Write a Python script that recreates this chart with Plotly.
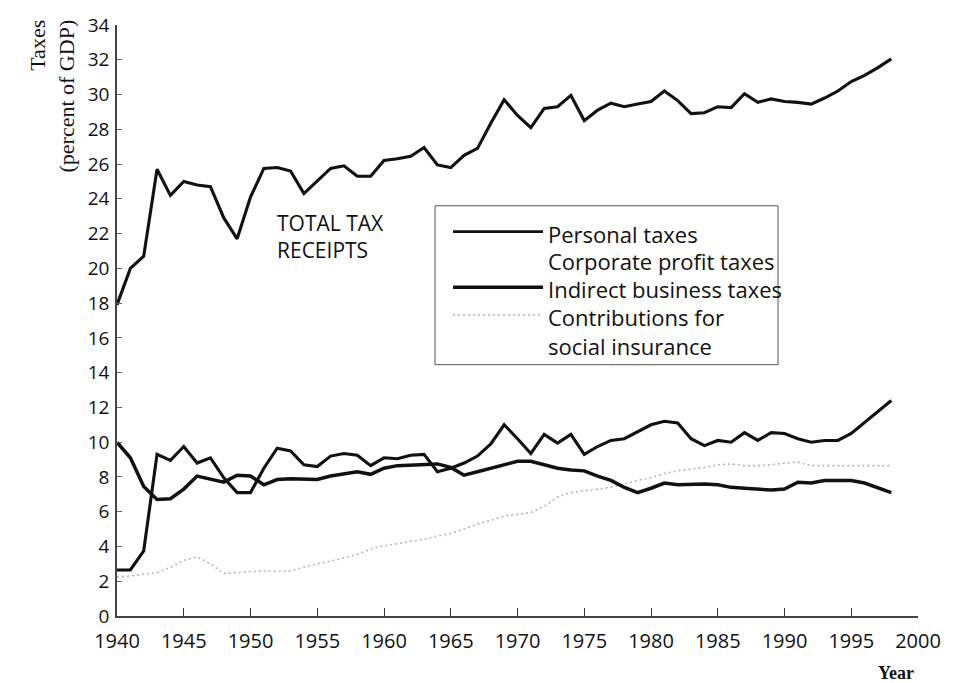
import plotly.graph_objects as go

# Federal, state and local tax receipts as a share of GDP, 1940-1998
years = list(range(1940, 1999))

total_tax = [
    17.9, 20.0, 20.7, 25.7, 24.2, 25.0, 24.8, 24.7, 22.9, 21.7,
    24.1, 25.75, 25.8, 25.6, 24.3, 25.0, 25.75, 25.9, 25.3, 25.3,
    26.2, 26.3, 26.45, 26.95, 25.95, 25.8, 26.5, 26.9, 28.35, 29.7,
    28.8, 28.1, 29.2, 29.3, 29.95, 28.5, 29.1, 29.5, 29.3, 29.45,
    29.6, 30.2, 29.65, 28.9, 28.95, 29.3, 29.25, 30.05, 29.55, 29.75,
    29.6, 29.55, 29.45, 29.8, 30.2, 30.75, 31.1, 31.55, 32.05,
]

personal_taxes = [
    2.65, 2.65, 3.75, 9.3, 8.95, 9.75, 8.8, 9.1, 7.95, 7.1,
    7.1, 8.5, 9.65, 9.5, 8.7, 8.6, 9.2, 9.35, 9.25, 8.65,
    9.1, 9.05, 9.25, 9.3, 8.3, 8.5, 8.8, 9.2, 9.9, 11.0,
    10.2, 9.35, 10.45, 9.95, 10.45, 9.3, 9.75, 10.1, 10.2, 10.6,
    11.0, 11.2, 11.1, 10.2, 9.8, 10.1, 10.0, 10.55, 10.1, 10.55,
    10.5, 10.2, 10.0, 10.1, 10.1, 10.5, 11.15, 11.8, 12.4,
]

indirect_business_taxes = [
    10.0, 9.1, 7.45, 6.7, 6.75, 7.3, 8.05, 7.85, 7.7, 8.1,
    8.05, 7.55, 7.85, 7.9, 7.9, 7.85, 8.05, 8.2, 8.3, 8.15,
    8.5, 8.65, 8.7, 8.7, 8.75, 8.55, 8.1, 8.3, 8.5, 8.65,
    8.9, 8.9, 8.7, 8.5, 8.4, 8.35, 8.05, 7.8, 7.4, 7.1,
    7.35, 7.65, 7.55, 7.6, 7.6, 7.55, 7.4, 7.35, 7.3, 7.25,
    7.3, 7.7, 7.65, 7.8, 7.8, 7.8, 7.65, 7.35, 7.1,
]

social_insurance = [
    2.25, 2.3, 2.4, 2.5, 2.8, 3.2, 3.4, 3.0, 2.45, 2.5,
    2.55, 2.6, 2.55, 2.6, 2.8, 3.0, 3.15, 3.35, 3.55, 3.85,
    4.05, 4.15, 4.3, 4.4, 4.6, 4.75, 5.0, 5.3, 5.5, 5.75,
    5.85, 5.95, 6.3, 6.85, 7.1, 7.2, 7.3, 7.4, 7.6, 7.8,
    7.95, 8.2, 8.35, 8.45, 8.55, 8.7, 8.75, 8.65, 8.65, 8.7,
    8.8, 8.85, 8.65, 8.65, 8.65, 8.65, 8.65, 8.65, 8.65,
]

x_ticks = list(range(1940, 2001, 5))
y_ticks = list(range(0, 35, 2))

legend_labels = [
    "Personal taxes",
    "Corporate profit taxes",
    "Indirect business taxes",
    "Contributions for<br>social insurance",
]

W, H = 967, 683
L, R, T, B = 117, 49, 21, 67
PW, PH = W - L - R, H - T - B

SANS = "Open Sans, Noto Sans, sans-serif"
SERIF = "Liberation Serif, DejaVu Serif, serif"
INK = "#111111"


def px(x):
    return (x - L) / PW


def py(y):
    return (H - B - y) / PH


fig = go.Figure()

fig.add_trace(go.Scatter(
    x=years, y=social_insurance, mode="lines", name="Contributions for social insurance",
    line=dict(color="#b4b4b4", width=1.6, dash="2px,3px"),
))
fig.add_trace(go.Scatter(
    x=years, y=indirect_business_taxes, mode="lines", name="Indirect business taxes",
    line=dict(color=INK, width=3.5),
))
fig.add_trace(go.Scatter(
    x=years, y=personal_taxes, mode="lines", name="Personal taxes",
    line=dict(color=INK, width=3.1),
))
fig.add_trace(go.Scatter(
    x=years, y=total_tax, mode="lines", name="Total tax receipts",
    line=dict(color=INK, width=3.1),
))

shapes = []
annotations = []

# Legend frame and samples
shapes.append(dict(type="rect", xref="paper", yref="paper",
                   x0=px(435), x1=px(778), y0=py(363), y1=py(203),
                   line=dict(color="#555555", width=1)))
sample_styles = [
    (229, dict(color=INK, width=2.6)),
    (285, dict(color=INK, width=3.6)),
    (313, dict(color="#b4b4b4", width=1.6, dash="2px,3px")),
]
for yy, style in sample_styles:
    shapes.append(dict(type="line", xref="paper", yref="paper",
                       x0=px(453), x1=px(543), y0=py(yy), y1=py(yy), line=style))

label_rows = [231, 259, 287, 329.5]
for text, yy in zip(legend_labels, label_rows):
    annotations.append(dict(xref="paper", yref="paper", x=px(546), y=py(yy),
                            xanchor="left", yanchor="middle", showarrow=False,
                            align="left",
                            text=text, font=dict(family=SANS, size=22, color=INK)))

annotations.append(dict(xref="paper", yref="paper", x=px(275), y=py(234),
                        xanchor="left", yanchor="middle", showarrow=False, align="left",
                        text="TOTAL TAX<br>RECEIPTS",
                        font=dict(family=SANS, size=21, color=INK)))

annotations.append(dict(xref="paper", yref="paper", x=px(52), y=py(93),
                        xanchor="center", yanchor="middle", showarrow=False,
                        textangle=-90, align="right",
                        text="Taxes<br>(percent of GDP)",
                        font=dict(family=SERIF, size=22, color=INK)))

annotations.append(dict(xref="paper", yref="paper", x=px(896), y=py(673),
                        xanchor="center", yanchor="middle", showarrow=False,
                        text="<b>Year</b>",
                        font=dict(family=SERIF, size=18, color=INK)))

fig.update_layout(
    width=W, height=H,
    margin=dict(l=L, r=R, t=T, b=B),
    paper_bgcolor="white", plot_bgcolor="white",
    showlegend=False,
    shapes=shapes,
    annotations=annotations,
    font=dict(family=SANS, color=INK),
)

fig.update_xaxes(
    range=[1940, 2000], tickvals=x_ticks, ticktext=[str(v) for v in x_ticks],
    showline=True, linecolor="#444444", linewidth=1.5,
    ticks="inside", ticklen=8, tickwidth=1.2, tickcolor="#333333",
    showgrid=False, zeroline=False, ticklabelstandoff=6,
    tickfont=dict(family=SANS, size=20, color=INK),
)
fig.update_yaxes(
    range=[0, 34], tickvals=y_ticks, ticktext=[str(v) for v in y_ticks],
    showline=True, linecolor="#444444", linewidth=1.5,
    ticks="inside", ticklen=5, tickwidth=1, tickcolor="#666666",
    showgrid=False, zeroline=False, ticklabelstandoff=2,
    tickfont=dict(family=SANS, size=19, color=INK),
)

fig.write_html("out.html")
